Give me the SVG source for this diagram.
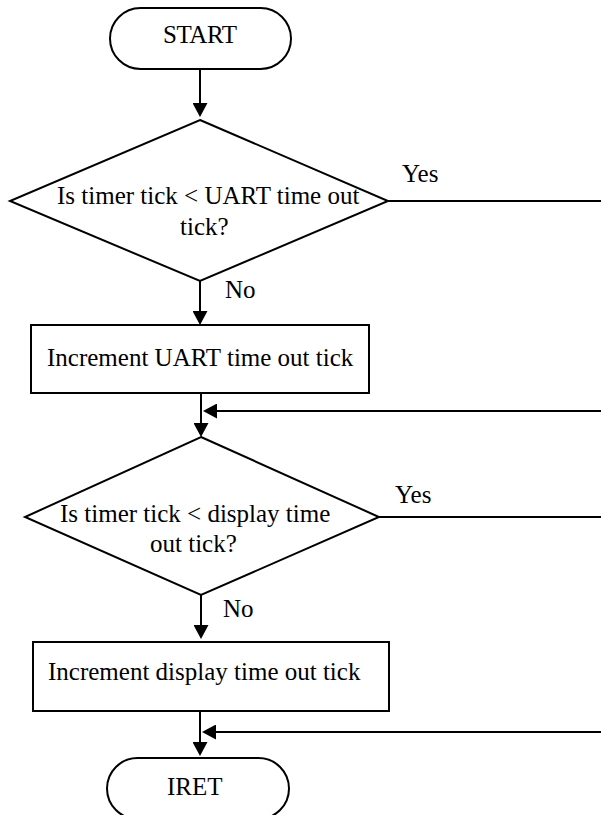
<svg xmlns="http://www.w3.org/2000/svg" width="601" height="815" viewBox="0 0 601 815">
  <style>
    .shape { fill: #ffffff; stroke: #000000; stroke-width: 2; }
    .wire { fill: none; stroke: #000000; stroke-width: 2; }
    .arrow { marker-end: url(#head); }
    .label { font-family: 'Liberation Serif', 'Times New Roman', Times, serif; font-size: 25px; fill: #000000; }
  </style>
  <defs>
    <!-- solid arrowhead; tip sits 6px past the end of the line -->
    <marker id="head" markerUnits="userSpaceOnUse" markerWidth="14" markerHeight="15" refX="8" refY="7.5" orient="auto">
      <path d="M0,0 L14,7.5 L0,15 Z" fill="#000000"/>
    </marker>
  </defs>

  <rect width="601" height="815" fill="#ffffff"/>

  <g id="connectors">
    <line class="wire arrow" x1="200" y1="69" x2="200" y2="111"/>
    <line class="wire arrow" x1="200" y1="281" x2="200" y2="319"/>
    <line class="wire" x1="388" y1="201" x2="601" y2="201"/>
    <line class="wire arrow" x1="201" y1="393" x2="201" y2="431"/>
    <line class="wire arrow" x1="601" y1="411" x2="209" y2="411"/>
    <line class="wire" x1="379" y1="517" x2="601" y2="517"/>
    <line class="wire arrow" x1="201" y1="595" x2="201" y2="633"/>
    <line class="wire arrow" x1="200" y1="711" x2="200" y2="750"/>
    <line class="wire arrow" x1="601" y1="732" x2="208" y2="732"/>
    <text class="label" font-family="Liberation Serif, serif" x="225" y="298">No</text>
    <text class="label" font-family="Liberation Serif, serif" x="402" y="182">Yes</text>
    <text class="label" font-family="Liberation Serif, serif" x="395" y="503">Yes</text>
    <text class="label" font-family="Liberation Serif, serif" x="223" y="617">No</text>
  </g>

  <g id="start">
    <rect class="shape" x="110" y="8" width="181" height="61" rx="30.5" ry="30.5"/>
    <text class="label" font-family="Liberation Serif, serif" x="163" y="43" textLength="74">START</text>
  </g>

  <g id="check-uart">
    <polygon class="shape" points="200,120 388,201 200,281 10,201"/>
    <text class="label" font-family="Liberation Serif, serif" x="57" y="204">Is timer tick &lt; UART time out</text>
    <text class="label" font-family="Liberation Serif, serif" x="180" y="235">tick?</text>
  </g>

  <g id="inc-uart">
    <rect class="shape" x="31" y="325" width="338" height="68"/>
    <text class="label" font-family="Liberation Serif, serif" x="47" y="366">Increment UART time out tick</text>
  </g>

  <g id="check-display">
    <polygon class="shape" points="201,437 379,517 201,595 25,517"/>
    <text class="label" font-family="Liberation Serif, serif" x="60" y="522">Is timer tick &lt; display time</text>
    <text class="label" font-family="Liberation Serif, serif" x="150" y="552">out tick?</text>
  </g>

  <g id="inc-display">
    <rect class="shape" x="33" y="642" width="356" height="69"/>
    <text class="label" font-family="Liberation Serif, serif" x="48" y="680">Increment display time out tick</text>
  </g>

  <g id="iret">
    <rect class="shape" x="107" y="758" width="182" height="61" rx="30.5" ry="30.5"/>
    <text class="label" font-family="Liberation Serif, serif" x="167" y="795">IRET</text>
  </g>
</svg>
